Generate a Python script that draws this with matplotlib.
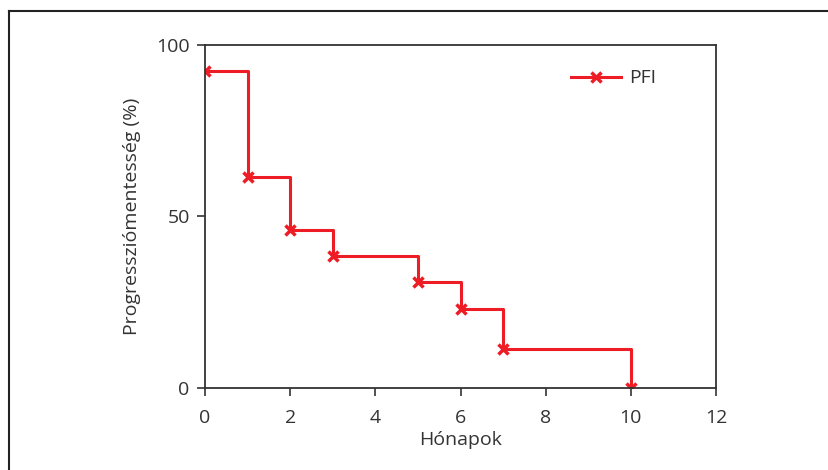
import numpy as np
import matplotlib.pyplot as plt
from matplotlib.lines import Line2D

plt.rcParams['font.family'] = ['Open Sans', 'DejaVu Sans']

# PFI data (months, progression-free %)
months = [0, 1, 2, 3, 5, 6, 7, 10]
pfi = [92.3, 61.5, 46.2, 38.5, 30.8, 23.1, 11.5, 0.0]

x_ticks = [0, 2, 4, 6, 8, 10, 12]
y_ticks = [0, 50, 100]

grey = '#333333'
red = '#ee1c25'

fig = plt.figure(figsize=(8.29, 4.70), dpi=100)
ax = fig.add_axes([0.2473, 0.1745, 0.6164, 0.7298])

ax.step(months, pfi, where='post', color=red, lw=2.2)
ax.plot(months, pfi, ls='none', marker='x', ms=6.5, mew=2.5, color=red)

ax.set_xlim(0, 12)
ax.set_ylim(0, 100)
ax.set_xticks(x_ticks)
ax.set_yticks(y_ticks)
ax.tick_params(direction='out', length=6, width=1.2, colors=grey,
               labelsize=14, pad=5)
ax.tick_params(axis='x', pad=9)
for s in ax.spines.values():
    s.set_color(grey)
    s.set_linewidth(1.3)

ax.set_xlabel('Hónapok', fontsize=14, color=grey, labelpad=3)
ax.set_ylabel('Progressziómentesség (%)', fontsize=14, color=grey,
              labelpad=11)

handle = Line2D([], [], color=red, lw=2.2, marker='x', ms=6.5, mew=2.5)
ax.legend([handle], ['PFI'], loc='upper right', bbox_to_anchor=(0.917, 0.98),
          frameon=False, fontsize=14, handlelength=2.6, handletextpad=0.4,
          labelcolor=grey)

# open frame around figure (top and left only)
fig.add_artist(Line2D([0.0105, 1.0], [0.976, 0.976], transform=fig.transFigure,
                      color='#222222', lw=1.5))
fig.add_artist(Line2D([0.0105, 0.0105], [0.0, 0.976], transform=fig.transFigure,
                      color='#222222', lw=1.5))

fig.savefig('out.png', dpi=100)
